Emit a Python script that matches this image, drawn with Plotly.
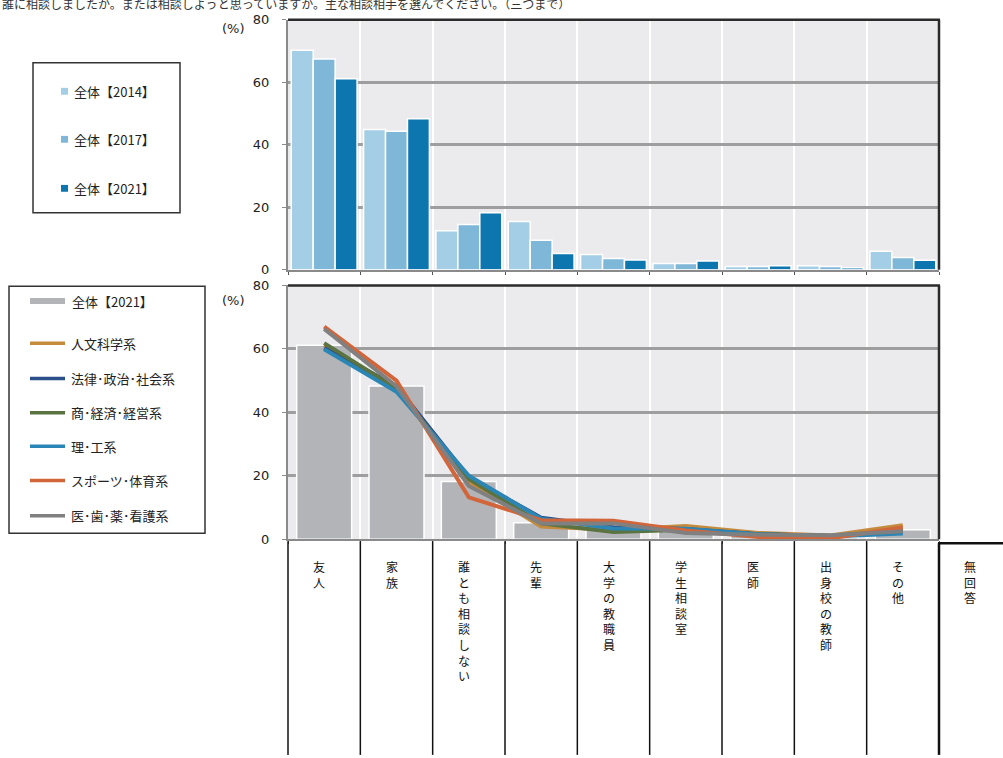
import plotly.graph_objects as go

W, H = 1003, 758

# Answer categories (the last one has no plotted values)
categories = ["友人", "家族", "誰とも相談しない", "先輩", "大学の教職員",
              "学生相談室", "医師", "出身校の教師", "その他", "無回答"]
plotted = categories[:9]

# Overall results by survey year (%)
total_2014 = [70.2, 44.9, 12.5, 15.4, 4.9, 2.0, 1.0, 1.3, 5.9]
total_2017 = [67.4, 44.3, 14.5, 9.4, 3.6, 2.0, 1.0, 1.0, 3.9]
total_2021 = [61.1, 48.3, 18.2, 5.2, 3.1, 2.8, 1.3, 0.6, 3.0]

# 2021 results by field of study (%)
humanities = [61.2, 47.5, 18.0, 4.0, 3.0, 4.2, 2.0, 1.2, 4.4]
law_politics = [60.3, 48.3, 19.5, 6.8, 3.8, 3.2, 1.6, 1.0, 2.3]
commerce_econ = [61.8, 47.5, 19.0, 5.0, 2.3, 3.0, 1.6, 1.0, 2.8]
science_eng = [59.9, 46.5, 20.0, 6.5, 3.4, 3.3, 1.6, 0.9, 1.8]
sports = [67.0, 50.0, 13.2, 6.0, 5.8, 2.8, 0.7, 0.3, 3.7]
medical = [66.3, 48.2, 16.8, 5.0, 5.0, 2.0, 1.4, 1.3, 2.5]

year_names = ["全体【2014】", "全体【2017】", "全体【2021】"]
field_names = ["人文科学系", "法律･政治･社会系", "商･経済･経営系",
               "理･工系", "スポーツ･体育系", "医･歯･薬･看護系"]
y_ticks = [0, 20, 40, 60, 80]

TITLE = "誰に相談しましたか。または相談しようと思っていますか。主な相談相手を選んでください。（三つまで）"

YEAR_COLORS = ["#A3CEE5", "#7FB7D9", "#0D76AE"]
FIELD_COLORS = ["#C58B3C", "#2C4E8A", "#5A7340", "#2B86B5", "#D2653A", "#808080"]
BAR_GRAY = "#B3B4B8"
BG = "#EBEBEE"
GRID = "#9E9E9E"
AXIS = "#8A8A8A"
DARK = "#2B2B2B"
JP = "Noto Sans CJK JP"
NUM = "DejaVu Sans"


def px_x(v):
    return v / W


def px_y(v):
    return 1 - v / H


X0, X1 = px_x(288), px_x(939)
TOP_DOM = [px_y(268), px_y(13)]
BOT_DOM = [px_y(543), px_y(284)]
n_plot = len(plotted)
col_w = (X1 - X0) / n_plot


def edge(k):
    return X0 + k * col_w


fig = go.Figure()

# Upper panel: grouped bars per survey year
for name, vals, col in zip(year_names, [total_2014, total_2017, total_2021], YEAR_COLORS):
    fig.add_bar(x=plotted, y=vals, name=name, xaxis="x", yaxis="y",
                marker=dict(color=col, line=dict(color="white", width=1.5)),
                showlegend=False)

# Lower panel: 2021 overall bars with field lines on top
fig.add_bar(x=plotted, y=total_2021, name=year_names[2], xaxis="x2", yaxis="y2",
            width=0.76, marker=dict(color=BAR_GRAY, line=dict(color="white", width=1.5)),
            showlegend=False)
for name, vals, col in zip(field_names,
                           [humanities, law_politics, commerce_econ, science_eng, sports, medical],
                           FIELD_COLORS):
    fig.add_scatter(x=plotted, y=vals, name=name, xaxis="x2", yaxis="y2", mode="lines",
                    line=dict(color=col, width=4), showlegend=False)

xcommon = dict(type="category", categoryarray=plotted, range=[-0.5, n_plot - 0.5],
               tickson="boundaries", showgrid=True, gridcolor="white", gridwidth=2,
               showticklabels=False, ticks="outside", ticklen=3, tickcolor="#555555",
               showline=True, linecolor=AXIS, linewidth=2, fixedrange=True,
               domain=[X0, X1])
ycommon = dict(range=[0, 80], tickvals=y_ticks, showgrid=True, gridcolor=GRID, gridwidth=2.5,
               zeroline=False, showline=True, linecolor=AXIS, linewidth=2,
               ticks="outside", ticklen=4, tickcolor=AXIS, ticklabelstandoff=10,
               tickfont=dict(family=NUM, size=13, color="#222222"), fixedrange=True)

fig.update_layout(
    width=W, height=H,
    margin=dict(l=0, r=0, t=0, b=0),
    paper_bgcolor="white", plot_bgcolor=BG,
    barmode="group", bargap=0.09, bargroupgap=0,
    showlegend=False,
    xaxis=dict(**xcommon, anchor="y"),
    yaxis=dict(**ycommon, domain=TOP_DOM, anchor="x"),
    xaxis2=dict(**xcommon, anchor="y2"),
    yaxis2=dict(**ycommon, domain=BOT_DOM, anchor="x2"),
)

shapes = []
annotations = []

# Dark top and right frame edges of both panels
for dom in (TOP_DOM, BOT_DOM):
    shapes.append(dict(type="line", xref="paper", yref="paper", x0=X0, x1=X1 + 1 / W,
                       y0=dom[1], y1=dom[1], line=dict(color=DARK, width=2.5)))
    shapes.append(dict(type="line", xref="paper", yref="paper", x0=X1, x1=X1,
                       y0=dom[0], y1=dom[1], line=dict(color=DARK, width=2.5)))

# Category table under the lower panel
for k in range(n_plot + 1):
    wide = k == n_plot
    shapes.append(dict(type="line", xref="paper", yref="paper", x0=edge(k), x1=edge(k),
                       y0=px_y(545 if not wide else 547), y1=px_y(H + 5),
                       line=dict(color="#111111", width=2.5 if wide else 1.5)))
shapes.append(dict(type="line", xref="paper", yref="paper", x0=edge(n_plot) - 1 / W,
                   x1=edge(n_plot + 1) + 0.02, y0=px_y(547), y1=px_y(547),
                   line=dict(color="#111111", width=2.5)))

# Vertical (top-to-bottom) category labels, one glyph per line
for k, label in enumerate(categories):
    annotations.append(dict(xref="paper", yref="paper", x=edge(k) + col_w / 2 - 5 / W,
                            y=px_y(560), xanchor="center", yanchor="top",
                            text="<br>".join(label), showarrow=False,
                            font=dict(family=JP, size=12, color="#111111")))

# Question text and unit labels
annotations.append(dict(xref="paper", yref="paper", x=0, y=px_y(-4), xanchor="left",
                        yanchor="middle", text=TITLE, showarrow=False,
                        font=dict(family=JP, size=12, color="#333333")))
for yy in (22, 299):
    annotations.append(dict(xref="paper", yref="paper", x=px_x(233), y=px_y(yy),
                            xanchor="center", yanchor="middle", text="(%)", showarrow=False,
                            font=dict(family=NUM, size=13, color="#222222")))

# Legend for the upper panel
shapes.append(dict(type="rect", xref="paper", yref="paper", x0=px_x(33), x1=px_x(180),
                   y0=px_y(210), y1=px_y(57), line=dict(color="#333333", width=1.5)))
for name, col, yy in zip(year_names, YEAR_COLORS, [86, 135, 185]):
    shapes.append(dict(type="rect", xref="paper", yref="paper", x0=px_x(61), x1=px_x(68),
                       y0=px_y(yy + 3.5), y1=px_y(yy - 3.5), line=dict(width=0),
                       fillcolor=col))
    annotations.append(dict(xref="paper", yref="paper", x=px_x(72), y=px_y(yy),
                            xanchor="left", yanchor="middle", text=name, showarrow=False,
                            font=dict(family=JP, size=13, color="#222222")))

# Legend for the lower panel
shapes.append(dict(type="rect", xref="paper", yref="paper", x0=px_x(9), x1=px_x(205),
                   y0=px_y(537), y1=px_y(285), line=dict(color="#333333", width=1.5)))
rows = [300, 343, 379, 414, 448, 483, 519]
shapes.append(dict(type="rect", xref="paper", yref="paper", x0=px_x(30), x1=px_x(65),
                   y0=px_y(rows[0] + 3), y1=px_y(rows[0] - 3), line=dict(width=0),
                   fillcolor=BAR_GRAY))
annotations.append(dict(xref="paper", yref="paper", x=px_x(70), y=px_y(rows[0]),
                        xanchor="left", yanchor="middle", text=year_names[2], showarrow=False,
                        font=dict(family=JP, size=13, color="#222222")))
for name, col, yy in zip(field_names, FIELD_COLORS, rows[1:]):
    shapes.append(dict(type="line", xref="paper", yref="paper", x0=px_x(30), x1=px_x(65),
                       y0=px_y(yy), y1=px_y(yy), line=dict(color=col, width=3.5)))
    annotations.append(dict(xref="paper", yref="paper", x=px_x(69), y=px_y(yy),
                            xanchor="left", yanchor="middle", text=name, showarrow=False,
                            font=dict(family=JP, size=13, color="#222222")))

fig.update_layout(shapes=shapes, annotations=annotations)

fig.write_html("out.html")
